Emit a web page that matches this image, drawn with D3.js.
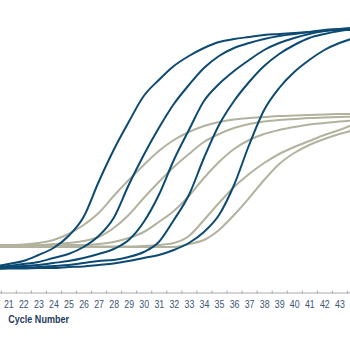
<!DOCTYPE html>
<html><head><meta charset="utf-8">
<script src="https://cdn.jsdelivr.net/npm/d3@7"></script>
<style>html,body{margin:0;padding:0;background:#fff;}svg{display:block;}</style>
</head><body>
<svg id="chart" width="350" height="350"></svg>
<script>
const cycles = d3.range(20, 45);
const tickLabels = d3.range(21, 44);
const blue1 = [0.035,0.06,0.09,0.15,0.22,0.34,0.53,0.88,1.20,1.48,1.74,1.90,2.04,2.14,2.22,2.28,2.31,2.33,2.35,2.36,2.37,2.38,2.39,2.40,2.40];
const blue2 = [0.03,0.04,0.06,0.08,0.12,0.16,0.23,0.34,0.52,0.85,1.15,1.42,1.66,1.85,2.02,2.14,2.22,2.27,2.31,2.34,2.36,2.38,2.40,2.41,2.42];
const blue3 = [0.02,0.03,0.04,0.05,0.07,0.09,0.12,0.16,0.21,0.30,0.48,0.75,1.10,1.40,1.69,1.86,1.99,2.10,2.20,2.27,2.32,2.36,2.39,2.41,2.42];
const blue4 = [0.015,0.02,0.025,0.03,0.04,0.05,0.07,0.09,0.10,0.13,0.18,0.28,0.50,0.75,1.12,1.45,1.69,1.88,2.04,2.16,2.25,2.32,2.36,2.39,2.41];
const blue5 = [0.01,0.015,0.015,0.02,0.02,0.03,0.035,0.05,0.065,0.09,0.12,0.15,0.20,0.27,0.38,0.55,0.85,1.25,1.60,1.82,1.98,2.10,2.20,2.27,2.32];
const gray1 = [0.25,0.25,0.255,0.27,0.30,0.36,0.45,0.57,0.74,0.90,1.05,1.19,1.30,1.38,1.44,1.48,1.505,1.52,1.53,1.54,1.545,1.55,1.555,1.56,1.56];
const gray2 = [0.245,0.245,0.25,0.25,0.26,0.27,0.29,0.33,0.42,0.55,0.72,0.88,1.03,1.16,1.28,1.36,1.42,1.46,1.485,1.50,1.51,1.52,1.525,1.53,1.535];
const gray3 = [0.24,0.24,0.24,0.245,0.245,0.25,0.25,0.26,0.28,0.32,0.38,0.48,0.59,0.74,0.92,1.08,1.21,1.30,1.36,1.40,1.43,1.455,1.47,1.485,1.495];
const gray4 = [0.235,0.235,0.235,0.235,0.235,0.235,0.235,0.235,0.235,0.235,0.24,0.25,0.27,0.34,0.50,0.67,0.83,0.96,1.07,1.16,1.23,1.29,1.35,1.40,1.46];
const gray5 = [0.23,0.23,0.23,0.23,0.23,0.23,0.23,0.23,0.23,0.23,0.23,0.23,0.23,0.26,0.30,0.40,0.55,0.72,0.90,1.06,1.17,1.25,1.31,1.36,1.40];

const blueSeries = [blue1, blue2, blue3, blue4, blue5];
const graySeries = [gray1, gray2, gray3, gray4, gray5];

const svg = d3.select('#chart');
const x = d3.scaleLinear().domain([20, 44]).range([-6.75, 354.45]);
const y = d3.scaleLinear().domain([0, 2.4]).range([270, 30]);

const line = d3.line().x((d, i) => x(cycles[i])).y(d => y(d)).curve(d3.curveMonotoneX);

svg.append('g').selectAll('path').data(graySeries).join('path')
  .attr('d', line).attr('fill', 'none').attr('stroke', '#b2b29e').attr('stroke-width', 2);
svg.append('g').selectAll('path').data(blueSeries).join('path')
  .attr('d', line).attr('fill', 'none').attr('stroke', '#0c4a72').attr('stroke-width', 2);

// axis line + half-cycle ticks
const tickAxis = d3.axisBottom(x).tickValues(d3.range(20.5, 44.5, 1)).tickSize(3).tickFormat('');
const gT = svg.append('g').attr('transform', 'translate(0,292.5)').call(tickAxis);
gT.select('.domain').attr('stroke', '#aaaaaa');
gT.selectAll('.tick line').attr('stroke', '#aaaaaa').attr('transform', 'translate(0,-2)');

const labelAxis = d3.axisBottom(x).tickValues(tickLabels).tickSize(0).tickPadding(0).tickFormat(d3.format('d'));
const gL = svg.append('g').attr('transform', 'translate(0,300)').call(labelAxis);
gL.select('.domain').remove();
gL.selectAll('.tick text')
  .attr('dy', 0).attr('y', 8.3)
  .attr('transform', 'scale(0.8,1)')
  .style('font-family', 'Liberation Sans, Arial, sans-serif')
  .style('font-size', '11px')
  .attr('fill', '#3a5573');

svg.append('text')
  .attr('x', 0).attr('y', 0)
  .attr('transform', 'translate(8.3,323) scale(0.86,1)')
  .style('font-family', 'Liberation Sans, Arial, sans-serif')
  .style('font-size', '10.5px').style('font-weight', 'bold')
  .attr('fill', '#1f3a5c')
  .text('Cycle Number');
</script>
</body></html>
